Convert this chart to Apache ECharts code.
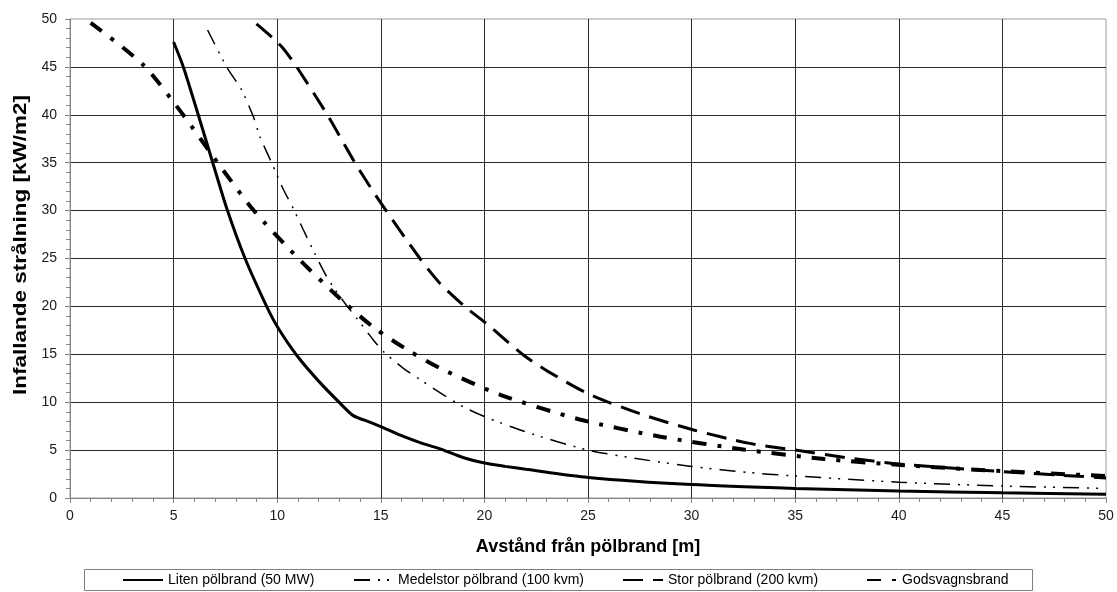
<!DOCTYPE html>
<html>
<head>
<meta charset="utf-8">
<script src="https://cdn.jsdelivr.net/npm/echarts@6/dist/echarts.min.js"></script>
<style>
  html, body { margin: 0; padding: 0; background: #fff; }
  #chart { width: 1117px; height: 592px; }
</style>
</head>
<body>
<div id="chart"></div>
<script>
// avstånd [m] / infallande strålning [kW/m2], avläst ur originalfiguren
const seriesNames = [
  "Liten pölbrand (50 MW)",
  "Medelstor pölbrand (100 kvm)",
  "Stor pölbrand (200 kvm)",
  "Godsvagnsbrand"
];

const liten = [
  [5, 47.6], [5.47, 45], [6.19, 40], [6.89, 35], [7.6, 30], [8.45, 25], [9.49, 20],
  [10, 17.9], [10.94, 14.9], [12, 12.2], [13.03, 9.9], [13.67, 8.6], [14.5, 7.9],
  [15, 7.45], [16, 6.5], [17, 5.7], [17.9, 5.1], [19, 4.2], [20, 3.65], [21, 3.3],
  [22, 3.0], [25, 2.15], [30, 1.4], [35, 1.0], [40, 0.72], [45, 0.55], [50, 0.4]
];

const medelstor = [
  [6.64, 48.85], [7.56, 45], [8.28, 42.6], [8.85, 39.8], [9.17, 37.7], [9.73, 35],
  [10.3, 32.2], [10.78, 30.2], [11.26, 28], [11.82, 25.5], [12.39, 23.1], [12.87, 21.5],
  [13.35, 20.1], [13.84, 18.75], [14.64, 16.5], [15.12, 15.3], [16.09, 13.54],
  [17.05, 12.14], [18, 10.8], [19, 9.5], [20, 8.5], [22, 6.9], [25, 5.0], [28, 3.9],
  [30, 3.3], [32.8, 2.65], [35, 2.3], [40, 1.65], [45, 1.25], [50, 1.0]
];

const stor = [
  [9.0, 49.5], [9.8, 48.0], [10.3, 46.9], [10.94, 45], [12.42, 40], [13.75, 35],
  [15, 30.8], [16.89, 25], [17.86, 22.4], [19.06, 19.97], [20.1, 18.2], [21.9, 14.9],
  [23, 13.3], [25, 10.9], [27.5, 8.8], [30.1, 7.1], [32.8, 5.7], [35, 5.0], [37.5, 4.2],
  [40, 3.55], [45, 2.75], [50, 2.1]
];

const godsvagn = [
  [1, 49.6], [3.54, 45.2], [5.39, 40.2], [7.16, 34.9], [8.85, 30.06], [11.02, 25.0],
  [13.19, 20.5], [14.72, 17.7], [16.41, 15.3], [18.0, 13.4], [20.8, 10.75], [24.6, 8.2],
  [28.5, 6.4], [32.5, 5.07], [36.4, 4.07], [40.1, 3.44], [45, 2.8], [50, 2.3]
];

const xTitle = "Avstånd från pölbrand [m]";
const yTitle = "Infallande strålning [kW/m2]";

const FONT = '"Liberation Sans", Arial, sans-serif';

const chart = echarts.init(document.getElementById("chart"), null, { renderer: "canvas" });

function axisCommon() {
  return {
    type: "value",
    min: 0,
    max: 50,
    interval: 5,
    axisLine: { show: true, lineStyle: { color: "#868686", width: 1 } },
    axisTick: { show: true, inside: false, length: 5, lineStyle: { color: "#868686" } },
    minorTick: { show: true, splitNumber: 5, length: 4, lineStyle: { color: "#868686" } },
    splitLine: { show: true, showMinLine: false, showMaxLine: false, lineStyle: { color: "#2b2b2b", width: 1 } },
    axisLabel: { color: "#1a1a1a", fontSize: 14, fontFamily: FONT }
  };
}

const xAxis = axisCommon();
xAxis.name = xTitle;
xAxis.nameLocation = "middle";
xAxis.nameGap = 40;
xAxis.nameTextStyle = { fontSize: 18, fontWeight: "bold", color: "#000", fontFamily: FONT };
xAxis.axisLabel.margin = 11;

const yAxis = axisCommon();
yAxis.axisLabel.margin = 13;

function lineSeries(name, data, width, dash) {
  return {
    name: name,
    type: "line",
    data: data,
    symbol: "none",
    smooth: 0.25,
    silent: true,
    lineStyle: { color: "#000", width: width, type: dash, cap: "butt" },
    itemStyle: { color: "#000" }
  };
}

const series = [
  lineSeries(seriesNames[0], liten, 3, "solid"),
  lineSeries(seriesNames[1], medelstor, 1.5, [16, 8, 2, 7, 2, 8]),
  lineSeries(seriesNames[2], stor, 3, [20, 10]),
  lineSeries(seriesNames[3], godsvagn, 4, [14, 11, 4, 11])
];

// en legend per post så att varje post hamnar där den står i originalet
const legendLeft = [122, 353, 622, 866];
const legendIconW = [40, 39, 40, 30];
const legends = seriesNames.map((n, i) => ({
  data: [n],
  left: legendLeft[i],
  top: 573,
  itemWidth: legendIconW[i],
  itemHeight: 14,
  padding: 0,
  selectedMode: false,
  // bara linjen i ikonen, ingen symbol
  itemStyle: { color: "transparent", borderColor: "transparent", borderWidth: 0, opacity: 0 },
  textStyle: { fontSize: 14, color: "#000", fontFamily: FONT }
}));

chart.setOption({
  animation: false,
  backgroundColor: "#fff",
  grid: {
    left: 70, right: 11, top: 19, bottom: 94,
    show: true, borderColor: "#9a9a9a", borderWidth: 1, backgroundColor: "transparent"
  },
  xAxis: xAxis,
  yAxis: yAxis,
  legend: legends,
  graphic: [
    {
      type: "rect",
      silent: true,
      shape: { x: 84.5, y: 569.5, width: 948, height: 21 },
      style: { fill: "none", stroke: "#808080", lineWidth: 1 }
    },
    {
      type: "text",
      silent: true,
      x: 21,
      y: 245,
      rotation: Math.PI / 2,
      scaleX: 1.25,
      style: {
        text: yTitle,
        font: 'bold 18px "Liberation Sans", Arial, sans-serif',
        fill: "#000",
        textAlign: "center",
        textVerticalAlign: "middle",
        align: "center",
        verticalAlign: "middle"
      }
    }
  ],
  series: series
});
</script>
</body>
</html>
